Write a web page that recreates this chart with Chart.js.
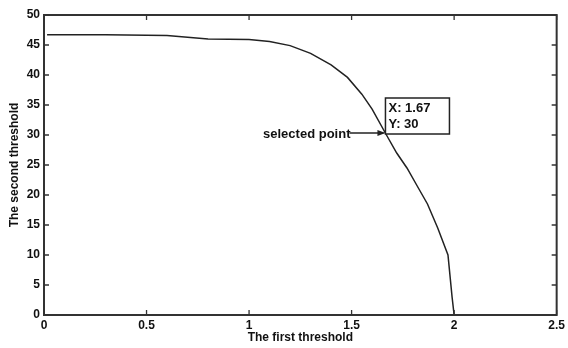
<!DOCTYPE html>
<html>
<head>
<meta charset="utf-8">
<script src="https://cdn.jsdelivr.net/npm/chart.js@4/dist/chart.umd.min.js"></script>
<style>
html,body{margin:0;padding:0;background:#fff;}
#wrap{width:568px;height:348px;position:relative;}
</style>
</head>
<body>
<div id="wrap"><canvas id="c" width="568" height="348"></canvas></div>
<script>
const firstThreshold  = [0.015, 0.3, 0.6, 0.7, 0.8, 1.0, 1.1, 1.2, 1.3, 1.4, 1.48, 1.55, 1.6, 1.67, 1.72, 1.77, 1.82, 1.87, 1.92, 1.97, 1.99, 2.0];
const secondThreshold = [46.7, 46.7, 46.6, 46.3, 46.0, 45.9, 45.6, 44.9, 43.6, 41.7, 39.6, 36.8, 34.3, 30.0, 27.0, 24.5, 21.5, 18.5, 14.5, 10.0, 3.0, 0.0];
const xTicks = [0, 0.5, 1, 1.5, 2, 2.5];
const yTicks = [0, 5, 10, 15, 20, 25, 30, 35, 40, 45, 50];
const selected = {x: 1.67, y: 30, label: 'selected point'};
const xTitle = 'The first threshold';
const yTitle = 'The second threshold';

const points = firstThreshold.map((x, i) => ({x, y: secondThreshold[i]}));
const FONT = 'Liberation Sans, Arial, sans-serif';
const AX = '#333';

const framePlugin = {
  id: 'frame',
  afterDraw(chart) {
    const {ctx, chartArea: a, scales} = chart;
    const xs = scales.x, ys = scales.y;
    ctx.save();
    ctx.strokeStyle = AX;
    ctx.lineWidth = 2;
    ctx.strokeRect(a.left, a.top, a.right - a.left, a.bottom - a.top);
    ctx.lineWidth = 1.3;
    const tl = 5;
    ctx.beginPath();
    xTicks.forEach(v => {
      const px = xs.getPixelForValue(v);
      ctx.moveTo(px, a.bottom); ctx.lineTo(px, a.bottom - tl);
      ctx.moveTo(px, a.top); ctx.lineTo(px, a.top + tl);
    });
    yTicks.forEach(v => {
      const py = ys.getPixelForValue(v);
      ctx.moveTo(a.left, py); ctx.lineTo(a.left + tl, py);
      ctx.moveTo(a.right, py); ctx.lineTo(a.right - tl, py);
    });
    ctx.stroke();

    // axis titles
    ctx.fillStyle = '#111';
    ctx.font = 'bold 12px ' + FONT;
    ctx.textAlign = 'center';
    ctx.textBaseline = 'middle';
    ctx.fillText(xTitle, (a.left + a.right) / 2, a.bottom + 23);
    ctx.save();
    ctx.translate(15, (a.top + a.bottom) / 2);
    ctx.rotate(-Math.PI / 2);
    ctx.fillText(yTitle, 0, 0);
    ctx.restore();

    // data tip box
    const px = xs.getPixelForValue(selected.x);
    const py = ys.getPixelForValue(selected.y) - 2;
    ctx.lineWidth = 1.5;
    ctx.strokeStyle = '#222';
    ctx.fillStyle = '#fff';
    const bx = px - 1, by = py - 35, bw = 64, bh = 36;
    ctx.fillRect(bx, by, bw, bh);
    ctx.strokeRect(bx, by, bw, bh);
    ctx.fillStyle = '#111';
    ctx.font = 'bold 13px ' + FONT;
    ctx.textAlign = 'left';
    ctx.textBaseline = 'middle';
    ctx.fillText('X: ' + selected.x.toFixed(2), bx + 3, by + 10);
    ctx.fillText('Y: ' + selected.y, bx + 3, by + 26);

    // arrow + text
    ctx.font = 'bold 13px ' + FONT;
    ctx.textAlign = 'right';
    ctx.fillText(selected.label, px - 36, py + 1);
    ctx.beginPath();
    ctx.moveTo(px - 37, py);
    ctx.lineTo(px - 3, py);
    ctx.stroke();
    ctx.beginPath();
    ctx.moveTo(px - 1, py);
    ctx.lineTo(px - 9, py - 3);
    ctx.lineTo(px - 9, py + 3);
    ctx.closePath();
    ctx.fillStyle = '#222';
    ctx.fill();
    ctx.restore();
  }
};

new Chart(document.getElementById('c'), {
  type: 'scatter',
  data: {
    datasets: [{
      data: points,
      showLine: true,
      borderColor: '#222',
      borderWidth: 1.5,
      pointRadius: 0,
      tension: 0,
      fill: false
    }]
  },
  options: {
    responsive: false,
    animation: false,
    devicePixelRatio: 1,
    layout: {padding: {top: 15, right: 10, left: 0, bottom: 0}},
    plugins: {legend: {display: false}, tooltip: {enabled: false}},
    scales: {
      x: {
        type: 'linear', min: 0, max: 2.5,
        afterBuildTicks: s => { s.ticks = xTicks.map(v => ({value: v})); },
        afterFit: s => { s.height = 33; },
        grid: {display: false, drawTicks: false},
        border: {display: false},
        ticks: {
          autoSkip: false, maxRotation: 0, padding: 3,
          color: '#111', font: {family: FONT, size: 12, weight: 'bold'},
          callback: v => String(v)
        }
      },
      y: {
        type: 'linear', min: 0, max: 50,
        afterBuildTicks: s => { s.ticks = yTicks.map(v => ({value: v})); },
        afterFit: s => { s.width = 44; },
        grid: {display: false, drawTicks: false},
        border: {display: false},
        ticks: {
          autoSkip: false, padding: 4,
          color: '#111', font: {family: FONT, size: 12, weight: 'bold'},
          callback: v => String(v)
        }
      }
    }
  },
  plugins: [framePlugin]
});
</script>
</body>
</html>
